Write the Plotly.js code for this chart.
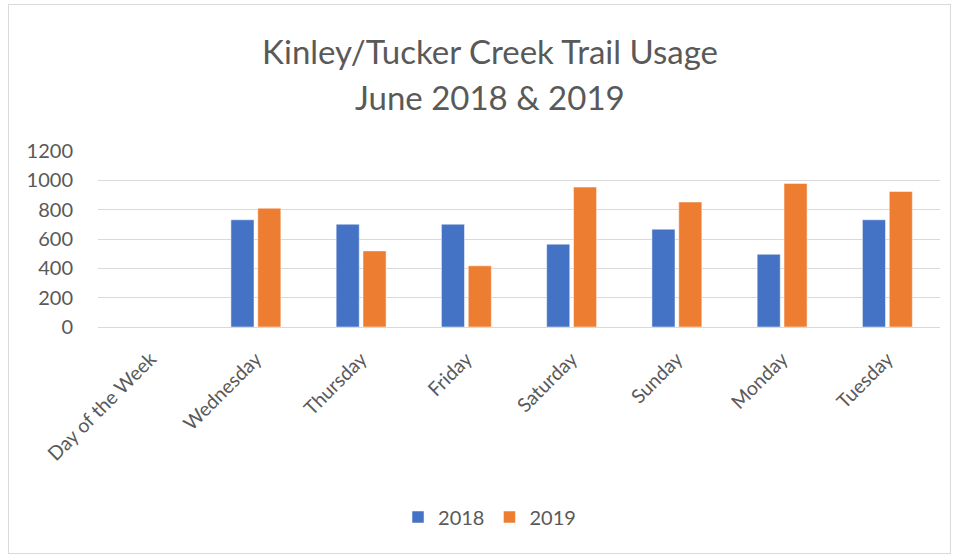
<!DOCTYPE html>
<html>
<head>
<meta charset="utf-8">
<script src="https://cdn.plot.ly/plotly-3.0.1.min.js"></script>
<style>
html,body{margin:0;padding:0;background:#fff;}
#wrap{position:relative;width:959px;height:558px;}
#chart{position:absolute;left:0;top:0;width:959px;height:558px;}
#frame{position:absolute;left:8px;top:4px;width:941px;height:548px;border:1px solid #d9d9d9;pointer-events:none;}
</style>
</head>
<body>
<div id="wrap"><div id="chart"></div><div id="frame"></div></div>
<script>
const categories = ["Day of the Week", "Wednesday", "Thursday", "Friday", "Saturday", "Sunday", "Monday", "Tuesday"];
const values2018 = [null, 731, 701, 701, 565, 667, 496, 731];
const values2019 = [null, 810, 519, 417, 954, 852, 979, 924];
const seriesNames = ["2018", "2019"];
const yTicks = [0, 200, 400, 600, 800, 1000, 1200];

const fontFam = "Lato, 'Open Sans', sans-serif";
const grey = "#595959";

const traces = [
  {type: "bar", name: seriesNames[0], x: categories, y: values2018,
   marker: {color: "#4472c4", line: {color: "#ffffff", width: 0.5}}, hoverinfo: "x+y"},
  {type: "bar", name: seriesNames[1], x: categories, y: values2019,
   marker: {color: "#ed7d31", line: {color: "#ffffff", width: 0.5}}, hoverinfo: "x+y"}
];

const layout = {
  width: 959, height: 558,
  margin: {l: 98, r: 19, t: 151, b: 231, pad: 0},
  paper_bgcolor: "#ffffff", plot_bgcolor: "#ffffff",
  barmode: "group", bargap: 0.49, bargroupgap: 0.14,
  title: {text: "Kinley/Tucker Creek Trail Usage", font: {family: fontFam, size: 33, color: grey},
          x: 0.511, xanchor: "center", y: 1 - 52/558, yanchor: "middle", xref: "container", yref: "container"},
  annotations: [
    {text: "June 2018 & 2019", xref: "paper", yref: "paper", x: (490-98)/842, xanchor: "center",
     y: 1 + (151-97)/176, yanchor: "middle", showarrow: false, font: {family: fontFam, size: 33, color: grey}}
  ],
  xaxis: {type: "category", categoryorder: "array", categoryarray: categories,
          tickangle: -45, tickfont: {family: fontFam, size: 19.5, color: grey},
          showline: false, showgrid: false, zeroline: false, ticks: "outside", ticklen: 12, tickcolor: "rgba(0,0,0,0)", automargin: false},
  yaxis: {range: [0, 1200], tickvals: yTicks, ticktext: yTicks.map(String),
          tickfont: {family: fontFam, size: 20, color: grey},
          showgrid: true, gridcolor: "#d9d9d9", gridwidth: 1.3, zeroline: true, zerolinecolor: "#d9d9d9", zerolinewidth: 1.3,
          showline: false, ticks: "outside", ticklen: 20, tickcolor: "rgba(0,0,0,0)", automargin: false},
  showlegend: true,
  legend: {orientation: "h", x: 0.465, xanchor: "center", y: -(517-327)/176, yanchor: "middle",
           font: {family: fontFam, size: 20, color: grey}, itemwidth: 30, traceorder: "normal"}
};

Plotly.newPlot("chart", traces, layout, {displayModeBar: false, staticPlot: false});
</script>
</body>
</html>
